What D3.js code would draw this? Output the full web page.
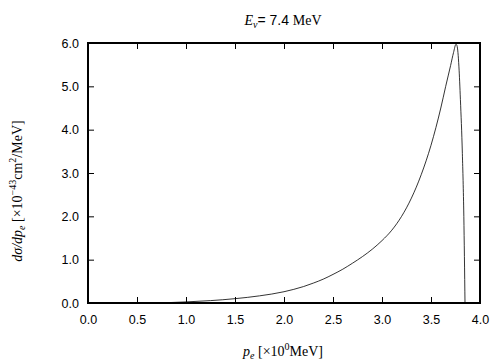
<!DOCTYPE html>
<html>
<head>
<meta charset="utf-8">
<script src="https://cdn.jsdelivr.net/npm/d3@7"></script>
<style>
  body { margin: 0; background: #fff; }
  .tick text { font-family: "Liberation Sans", Arial, sans-serif; font-size: 12.5px; fill: #000; }
  .serif { font-family: "Liberation Serif", "Times New Roman", serif; font-size: 14px; fill: #000; }
</style>
</head>
<body>
<svg id="chart" width="504" height="360"></svg>
<script>
'use strict';

// electron momentum p_e [MeV]
var pe = [0.70, 0.80, 1.00, 1.25, 1.50, 1.75, 2.00, 2.10, 2.20, 2.30, 2.40, 2.50, 2.60,
          2.70, 2.80, 2.90, 3.00, 3.10, 3.20, 3.30, 3.40, 3.50, 3.60, 3.65, 3.70, 3.73,
          3.755, 3.765, 3.775, 3.785, 3.80, 3.82, 3.835, 3.847];
// dsigma/dp_e [1e-43 cm^2/MeV]
var dsig = [0.00, 0.007, 0.025, 0.055, 0.10, 0.165, 0.26, 0.315, 0.38, 0.46, 0.55, 0.66, 0.78,
            0.92, 1.07, 1.24, 1.44, 1.68, 2.00, 2.42, 2.96, 3.64, 4.50, 5.00, 5.48, 5.78,
            5.97, 5.94, 5.78, 5.45, 4.70, 3.45, 2.00, 0.00];

var xTicks = [0, 0.5, 1, 1.5, 2, 2.5, 3, 3.5, 4];
var yTicks = [0, 1, 2, 3, 4, 5, 6];

var svg = d3.select("#chart");
var mLeft = 88, mRight = 480, mTop = 43, mBottom = 303;

var x = d3.scaleLinear().domain([0, 4]).range([mLeft, mRight]);
var y = d3.scaleLinear().domain([0, 6]).range([mBottom, mTop]);

var fmt = d3.format(".1f");

// axes, ticks pointing inward on all four sides
svg.append("g")
    .attr("transform", "translate(0," + mBottom + ")")
    .call(d3.axisBottom(x).tickValues(xTicks).tickFormat(fmt).tickSizeInner(-6).tickSizeOuter(0).tickPadding(12));
svg.append("g")
    .attr("transform", "translate(0," + mTop + ")")
    .call(d3.axisTop(x).tickValues(xTicks).tickFormat("").tickSizeInner(-6).tickSizeOuter(0));
svg.append("g")
    .attr("transform", "translate(" + mLeft + ",0)")
    .call(d3.axisLeft(y).tickValues(yTicks).tickFormat(fmt).tickSizeInner(-6).tickSizeOuter(0).tickPadding(9));
svg.append("g")
    .attr("transform", "translate(" + mRight + ",0)")
    .call(d3.axisRight(y).tickValues(yTicks).tickFormat("").tickSizeInner(-6).tickSizeOuter(0));

svg.selectAll(".domain").remove();
svg.selectAll(".tick line").attr("stroke", "#000").attr("stroke-width", 1);

//frame
svg.append("rect")
    .attr("x", mLeft).attr("y", mTop)
    .attr("width", mRight - mLeft).attr("height", mBottom - mTop)
    .attr("fill", "none").attr("stroke", "#000").attr("stroke-width", 2);

//curve
var line = d3.line()
    .x(function (d, i) { return x(pe[i]); })
    .y(function (d) { return y(d); })
    .curve(d3.curveMonotoneX);

svg.append("path")
    .datum(dsig)
    .attr("d", line)
    .attr("fill", "none")
    .attr("stroke", "#000")
    .attr("stroke-width", 0.8);

//title
var title = svg.append("text").attr("class", "serif")
    .attr("x", 283).attr("y", 25).attr("text-anchor", "middle");
title.append("tspan").attr("font-style", "italic").text("E");
title.append("tspan").attr("font-style", "italic").attr("font-size", "10px").attr("dy", 3).text("ν");
title.append("tspan").attr("dy", -3).attr("font-family", "Liberation Sans, Arial, sans-serif").text("= 7.4 ");
title.append("tspan").text("MeV");

//x label
var xl = svg.append("text").attr("class", "serif")
    .attr("x", 283).attr("y", 356).attr("text-anchor", "middle");
xl.append("tspan").attr("font-style", "italic").text("p");
xl.append("tspan").attr("font-style", "italic").attr("font-size", "10px").attr("dy", 3).text("e");
xl.append("tspan").attr("dy", -3).text(" [×10");
xl.append("tspan").attr("font-size", "10px").attr("dy", -6).text("0");
xl.append("tspan").attr("dy", 6).text("MeV]");

//y label
var yl = svg.append("text").attr("class", "serif")
    .attr("transform", "translate(22,191) rotate(-90)")
    .attr("text-anchor", "middle");
yl.append("tspan").attr("font-style", "italic").text("dσ/dp");
yl.append("tspan").attr("font-style", "italic").attr("font-size", "10px").attr("dy", 3).text("e");
yl.append("tspan").attr("dy", -3).text(" [×10");
yl.append("tspan").attr("font-size", "10px").attr("dy", -6).text("−43");
yl.append("tspan").attr("dy", 6).text("cm");
yl.append("tspan").attr("font-size", "10px").attr("dy", -6).text("2");
yl.append("tspan").attr("dy", 6).text("/MeV]");
</script>
</body>
</html>
